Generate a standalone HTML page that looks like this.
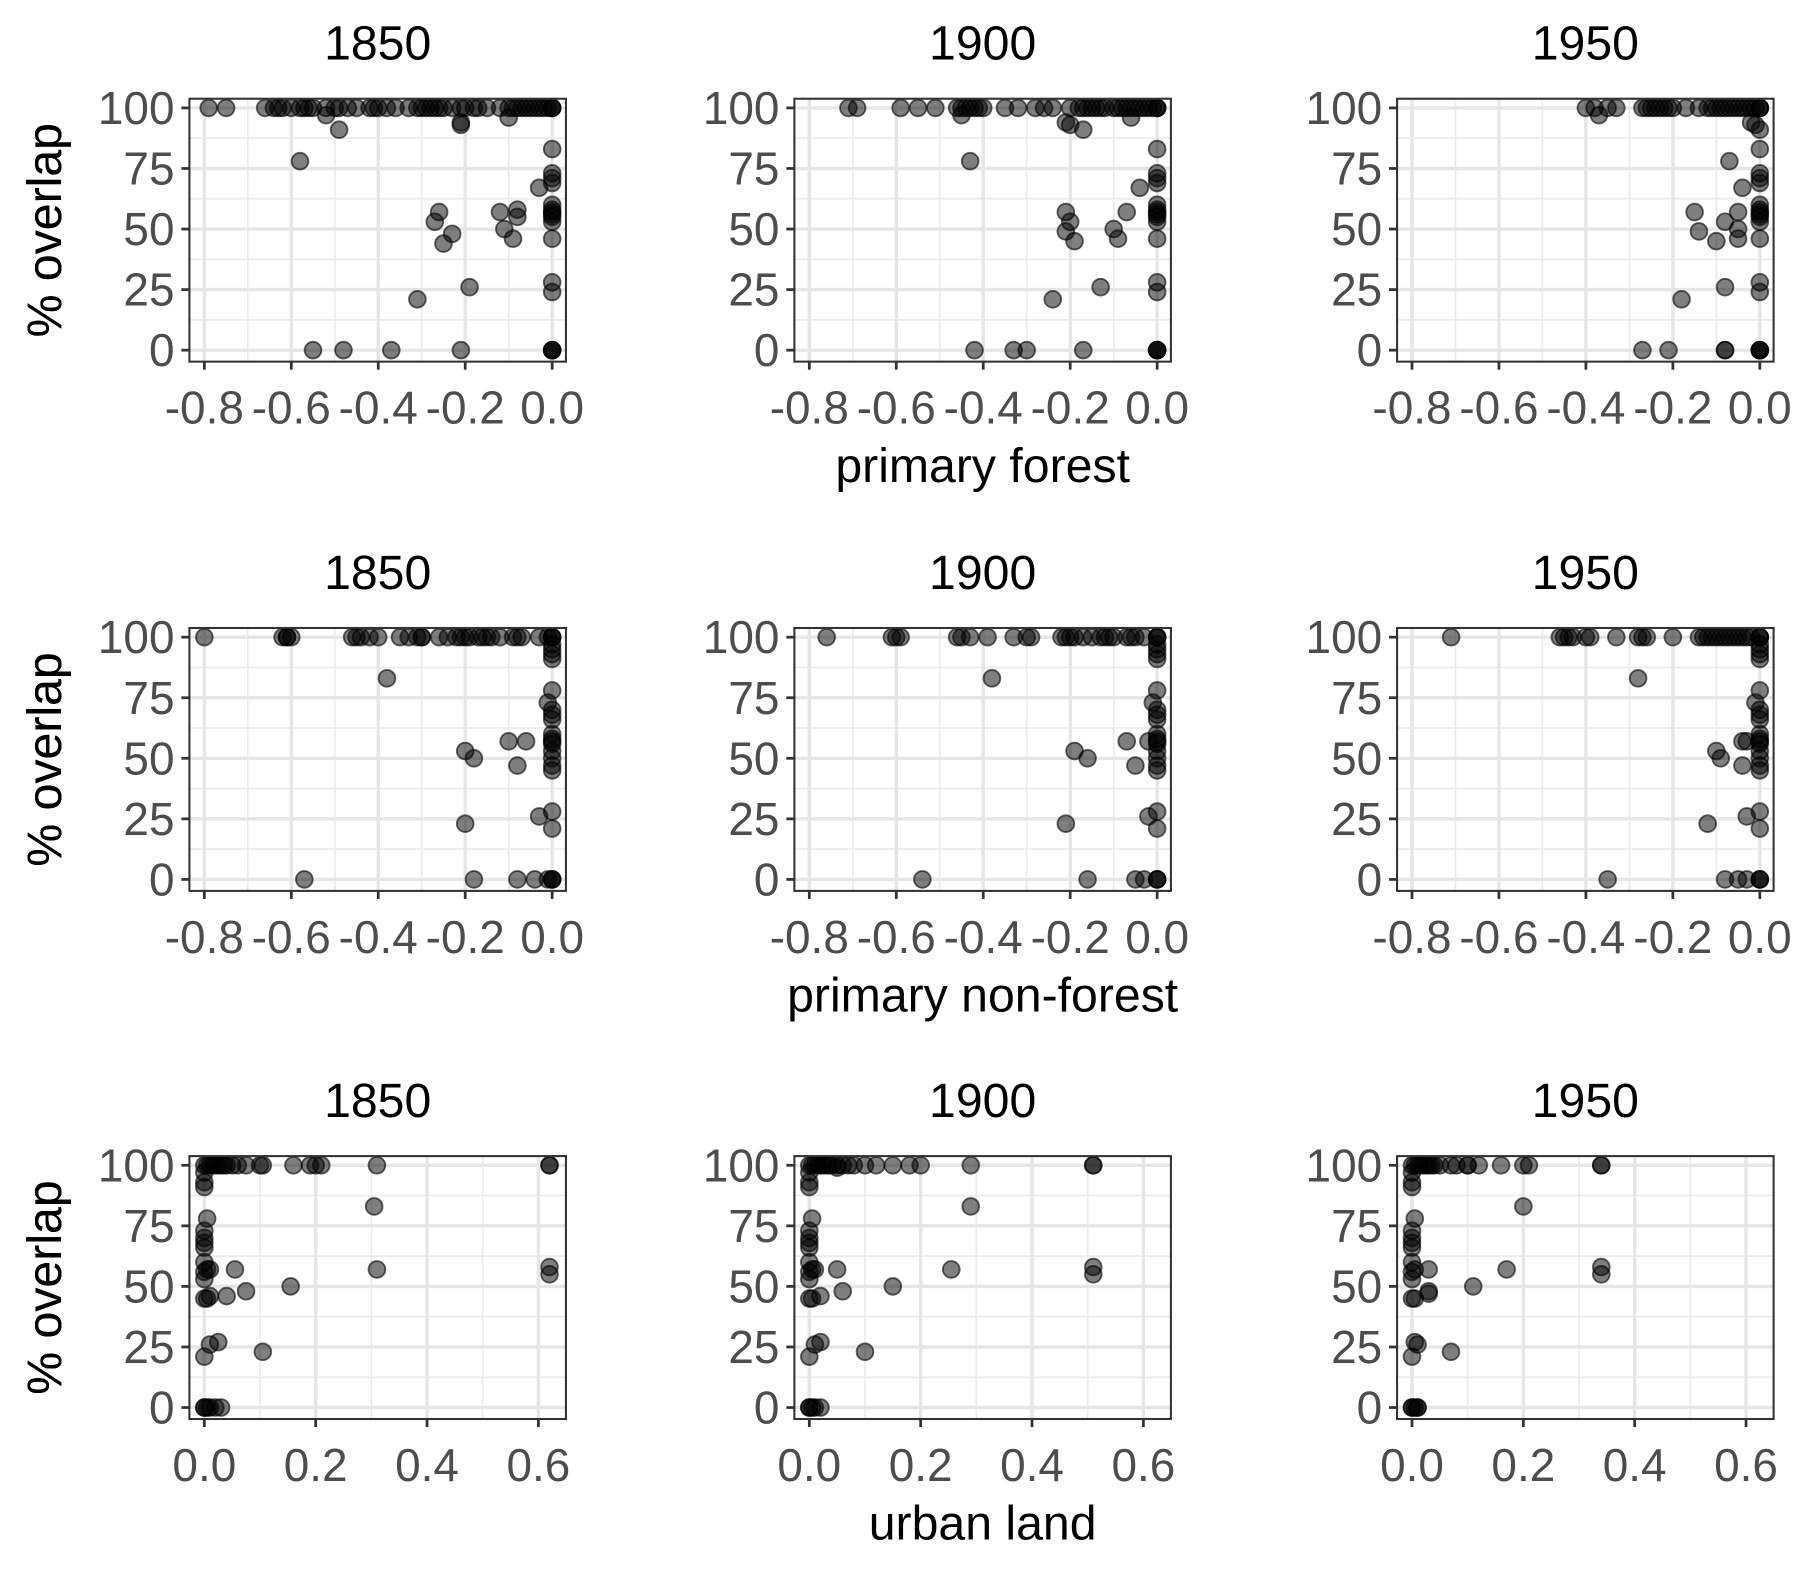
<!DOCTYPE html>
<html><head><meta charset="utf-8"><style>
html,body{margin:0;padding:0;background:#fff}
svg{display:block}
text{font-family:"Liberation Sans",Arial,sans-serif}
</style></head><body>
<svg id="chart" width="1800" height="1574" viewBox="0 0 1568 1371" preserveAspectRatio="none" xmlns="http://www.w3.org/2000/svg"></svg>
<script>
const years = ["1850","1900","1950"];
const rowVars = ["primary forest","primary non-forest","urban land"];
const yTicks = [0,25,50,75,100];
const forestTicks = [-0.8,-0.6,-0.4,-0.2,0.0];
const urbanTicks = [0.0,0.2,0.4,0.6];
const forestTickLabels = ["-0.8","-0.6","-0.4","-0.2","0.0"];
const urbanTickLabels = ["0.0","0.2","0.4","0.6"];

const pfZeroCol = [[0,83],[0,73],[0,71],[0,69],[0,60],[0,58],[0,57],[0,56],[0,55],[0,53],[0,46],[0,28],[0,24],[0,0],[0,0],[0,0],[0,0],[0,100],[0,100],[0,100]];
const pf1850 = [[-0.79,100],[-0.75,100],[-0.66,100],[-0.64,100],[-0.63,100],[-0.62,100],[-0.6,100],[-0.58,100],[-0.57,100],[-0.56,100],[-0.55,100],[-0.52,100],[-0.5,100],[-0.49,100],[-0.47,100],[-0.45,100],[-0.42,100],[-0.41,100],[-0.4,100],[-0.38,100],[-0.36,100],[-0.33,100],[-0.31,100],[-0.3,100],[-0.29,100],[-0.28,100],[-0.27,100],[-0.26,100],[-0.25,100],[-0.23,100],[-0.21,100],[-0.2,100],[-0.18,100],[-0.17,100],[-0.15,100],[-0.12,100],[-0.1,100],[-0.09,100],[-0.08,100],[-0.07,100],[-0.06,100],[-0.05,100],[-0.04,100],[-0.03,100],[-0.02,100],[-0.01,100],[-0.52,97],[-0.49,91],[-0.58,78],[-0.1,96],[-0.21,94],[-0.21,93],[-0.03,67],[-0.27,53],[-0.26,57],[-0.25,44],[-0.23,48],[-0.12,57],[-0.11,50],[-0.08,55],[-0.08,58],[-0.09,46],[-0.31,21],[-0.19,26],[-0.55,0],[-0.48,0],[-0.37,0],[-0.21,0]];
const pf1900 = [[-0.71,100],[-0.69,100],[-0.59,100],[-0.55,100],[-0.51,100],[-0.46,100],[-0.45,100],[-0.44,100],[-0.43,100],[-0.42,100],[-0.41,100],[-0.4,100],[-0.35,100],[-0.32,100],[-0.28,100],[-0.26,100],[-0.24,100],[-0.2,100],[-0.18,100],[-0.17,100],[-0.16,100],[-0.15,100],[-0.14,100],[-0.13,100],[-0.12,100],[-0.1,100],[-0.09,100],[-0.08,100],[-0.07,100],[-0.06,100],[-0.05,100],[-0.04,100],[-0.03,100],[-0.02,100],[-0.01,100],[-0.45,97],[-0.43,78],[-0.21,94],[-0.2,93],[-0.17,91],[-0.06,96],[-0.04,67],[-0.21,57],[-0.2,53],[-0.21,49],[-0.19,45],[-0.1,50],[-0.09,46],[-0.07,57],[-0.24,21],[-0.13,26],[-0.42,0],[-0.33,0],[-0.3,0],[-0.17,0]];
const pf1950 = [[-0.4,100],[-0.38,100],[-0.35,100],[-0.33,100],[-0.27,100],[-0.26,100],[-0.25,100],[-0.24,100],[-0.23,100],[-0.22,100],[-0.21,100],[-0.2,100],[-0.17,100],[-0.14,100],[-0.12,100],[-0.11,100],[-0.1,100],[-0.09,100],[-0.08,100],[-0.07,100],[-0.06,100],[-0.05,100],[-0.04,100],[-0.03,100],[-0.02,100],[-0.01,100],[-0.37,97],[-0.02,94],[-0.01,93],[0,91],[-0.07,78],[-0.04,67],[-0.15,57],[-0.14,49],[-0.1,45],[-0.08,53],[-0.05,50],[-0.05,46],[-0.05,57],[-0.18,21],[-0.08,26],[-0.27,0],[-0.21,0],[-0.08,0],[-0.08,0]];

const pnZeroCol = [[0,100],[0,100],[0,100],[0,97],[0,95],[0,93],[0,91],[0,78],[-0.01,73],[0,70],[0,68],[0,66],[0,60],[0,58],[0,57],[0,56],[0,53],[0,50],[0,47],[0,45],[0,28],[0,21],[0,0],[0,0],[0,0]];
const pn1850 = [[-0.8,100],[-0.62,100],[-0.61,100],[-0.6,100],[-0.61,100],[-0.46,100],[-0.45,100],[-0.44,100],[-0.42,100],[-0.4,100],[-0.35,100],[-0.33,100],[-0.31,100],[-0.3,100],[-0.3,100],[-0.26,100],[-0.24,100],[-0.22,100],[-0.21,100],[-0.2,100],[-0.19,100],[-0.17,100],[-0.16,100],[-0.15,100],[-0.14,100],[-0.12,100],[-0.09,100],[-0.08,100],[-0.07,100],[-0.03,100],[-0.01,100],[-0.38,83],[-0.06,57],[-0.1,57],[-0.2,53],[-0.18,50],[-0.08,47],[-0.03,26],[-0.2,23],[-0.57,0],[-0.18,0],[-0.08,0],[-0.04,0],[-0.01,0]];
const pn1900 = [[-0.76,100],[-0.61,100],[-0.6,100],[-0.59,100],[-0.46,100],[-0.45,100],[-0.43,100],[-0.39,100],[-0.33,100],[-0.3,100],[-0.29,100],[-0.22,100],[-0.21,100],[-0.2,100],[-0.19,100],[-0.17,100],[-0.15,100],[-0.13,100],[-0.12,100],[-0.11,100],[-0.1,100],[-0.07,100],[-0.06,100],[-0.05,100],[-0.03,100],[-0.38,83],[-0.19,53],[-0.16,50],[-0.07,57],[-0.05,47],[-0.02,57],[-0.21,23],[-0.02,26],[-0.54,0],[-0.16,0],[-0.05,0],[-0.03,0]];
const pn1950 = [[-0.71,100],[-0.46,100],[-0.45,100],[-0.44,100],[-0.43,100],[-0.4,100],[-0.39,100],[-0.33,100],[-0.28,100],[-0.27,100],[-0.26,100],[-0.2,100],[-0.14,100],[-0.13,100],[-0.12,100],[-0.11,100],[-0.1,100],[-0.09,100],[-0.08,100],[-0.07,100],[-0.06,100],[-0.05,100],[-0.04,100],[-0.03,100],[-0.02,100],[-0.28,83],[-0.1,53],[-0.09,50],[-0.03,57],[-0.04,57],[-0.04,47],[-0.12,23],[-0.03,26],[-0.35,0],[-0.08,0],[-0.05,0],[-0.03,0]];

const ulZeroCol = [[0,100],[0.005,100],[0.01,100],[0.015,100],[0.02,100],[0.025,100],[0.03,100],[0.035,100],[0.04,100],[0,97],[0,93],[0,91],[0.005,78],[0,73],[0,70],[0,68],[0,66],[0,60],[0.005,57],[0,56],[0,53],[0,45],[0.005,45],[0,21],[0,0],[0,0],[0.005,0],[0.01,0]];
const ul1850 = [[0.05,100],[0.06,100],[0.075,100],[0.1,100],[0.105,100],[0.16,100],[0.19,100],[0.2,100],[0.21,100],[0.31,100],[0.62,100],[0.62,100],[0.01,57],[0.01,46],[0.055,57],[0.04,46],[0.075,48],[0.155,50],[0.305,83],[0.31,57],[0.62,58],[0.62,55],[0.01,26],[0.025,27],[0.105,23],[0.02,0],[0.03,0]];
const ul1900 = [[0.05,100],[0.06,100],[0.07,100],[0.08,100],[0.1,100],[0.12,100],[0.15,100],[0.18,100],[0.2,100],[0.29,100],[0.51,100],[0.51,100],[0.05,99],[0.01,57],[0.05,57],[0.02,46],[0.06,48],[0.15,50],[0.255,57],[0.29,83],[0.51,58],[0.51,55],[0.01,26],[0.02,27],[0.1,23],[0.02,0]];
const ul1950 = [[0.05,100],[0.07,100],[0.08,100],[0.1,100],[0.1,100],[0.12,100],[0.16,100],[0.2,100],[0.21,100],[0.34,100],[0.34,100],[0.03,57],[0.03,47],[0.03,48],[0.11,50],[0.17,57],[0.2,83],[0.34,58],[0.34,55],[0.005,27],[0.01,26],[0.07,23],[0.01,0]];

const panelData = [
  [pf1850.concat(pfZeroCol), pf1900.concat(pfZeroCol), pf1950.concat(pfZeroCol)],
  [pn1850.concat(pnZeroCol), pn1900.concat(pnZeroCol), pn1950.concat(pnZeroCol)],
  [ul1850.concat(ulZeroCol), ul1900.concat(ulZeroCol), ul1950.concat(ulZeroCol)]
];

const NS = "http://www.w3.org/2000/svg";
const svg = document.getElementById("chart");
const colLeft = [165, 692, 1217];
const rowTop = [86, 547, 1007];
const BW = 328, BH = 229;

function mk(tag, attrs, parent) {
  const e = document.createElementNS(NS, tag);
  for (const k in attrs) e.setAttribute(k, attrs[k]);
  (parent || svg).appendChild(e);
  return e;
}
function yScale(top, v) { return top + 219 - v * 2.11; }
function xScale(left, row, v) {
  if (row === 2) return left + 13 + v / 0.6 * 291;
  return left + 13 + (v + 0.8) / 0.8 * 303;
}

for (let r = 0; r < 3; r++) {
  for (let c = 0; c < 3; c++) {
    const L = colLeft[c], T = rowTop[r];
    const g = mk("g", {});
    
    
    mk("rect", {x: L, y: T, width: BW, height: BH, fill: "#fff"}, g);
    const ticks = r === 2 ? urbanTicks : forestTicks;
    const labels = r === 2 ? urbanTickLabels : forestTickLabels;
    for (let i = 0; i < yTicks.length - 1; i++) {
      const yy = yScale(T, (yTicks[i] + yTicks[i + 1]) / 2);
      mk("line", {x1: L, x2: L + BW, y1: yy, y2: yy, stroke: "#ebebeb", "stroke-width": 1.5}, g);
    }
    for (let i = 0; i < ticks.length - 1; i++) {
      const xx = xScale(L, r, (ticks[i] + ticks[i + 1]) / 2);
      mk("line", {x1: xx, x2: xx, y1: T, y2: T + BH, stroke: "#ebebeb", "stroke-width": 1.5}, g);
    }
    yTicks.forEach(v => {
      const yy = yScale(T, v);
      mk("line", {x1: L, x2: L + BW, y1: yy, y2: yy, stroke: "#e6e6e6", "stroke-width": 3}, g);
    });
    ticks.forEach(v => {
      const xx = xScale(L, r, v);
      mk("line", {x1: xx, x2: xx, y1: T, y2: T + BH, stroke: "#e6e6e6", "stroke-width": 3}, g);
    });
    panelData[r][c].forEach(p => {
      const pt = mk("circle", {cx: xScale(L, r, p[0]), cy: yScale(T, p[1]), r: 7.3, fill: "#000", "fill-opacity": 0.5, stroke: "#000", "stroke-opacity": 0.6, "stroke-width": 1.6}, g);
      
      
    });
    mk("rect", {x: L, y: T, width: BW, height: BH, fill: "none", stroke: "#333", "stroke-width": 1.8}, g);
    yTicks.forEach(v => {
      const yy = yScale(T, v);
      mk("line", {x1: L - 7, x2: L, y1: yy, y2: yy, stroke: "#333", "stroke-width": 2.4}, g);
      const t = mk("text", {x: L - 13, y: yy + 14, "text-anchor": "end", "font-size": 40, fill: "#4d4d4d"}, g);
      t.textContent = String(v);
      
      
    });
    ticks.forEach((v, i) => {
      const xx = xScale(L, r, v);
      mk("line", {x1: xx, x2: xx, y1: T + BH, y2: T + BH + 7, stroke: "#333", "stroke-width": 2.4}, g);
      const t = mk("text", {x: xx, y: T + BH + 54, "text-anchor": "middle", "font-size": 40, fill: "#4d4d4d"}, g);
      t.textContent = labels[i];
      
      
    });
    const ti = mk("text", {x: L + BW / 2, y: T - 34, "text-anchor": "middle", "font-size": 42, fill: "#000"}, g);
    ti.textContent = years[c];
    
    
    const yt = mk("text", {x: 0, y: 0, "text-anchor": "middle", "font-size": 42, fill: "#000", transform: "translate(53," + (T + BH / 2) + ") rotate(-90)"}, g);
    yt.textContent = "% overlap";
    
    
  }
  const xt = mk("text", {x: 856, y: rowTop[r] + 334, "text-anchor": "middle", "font-size": 42, fill: "#000"});
  xt.textContent = rowVars[r];
  
  
}
</script>
</body></html>
